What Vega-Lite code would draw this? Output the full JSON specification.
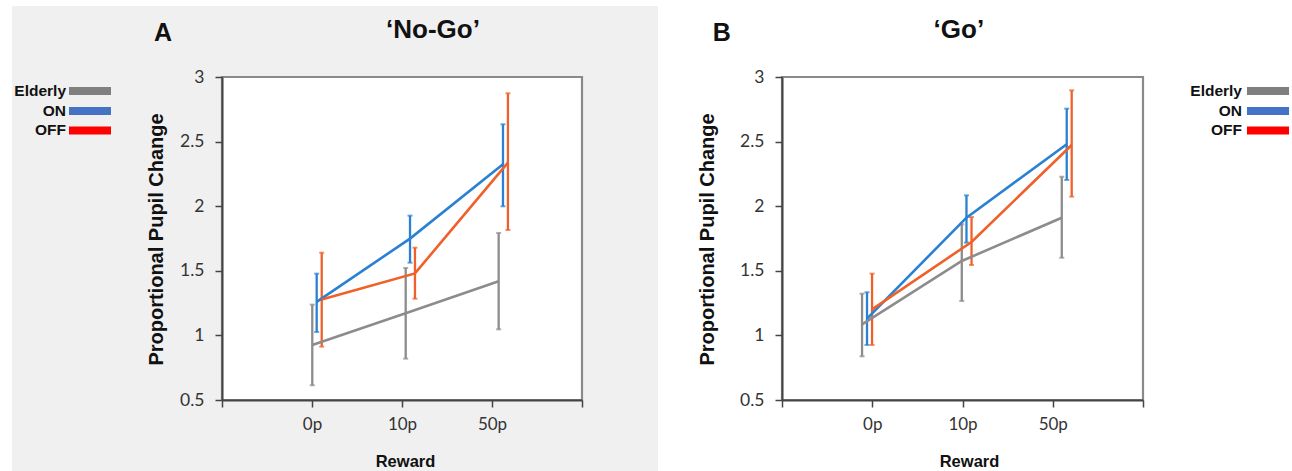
{
  "$schema": "https://vega.github.io/schema/vega-lite/v6.json",
  "padding": {"left": 12, "top": 5, "right": 0, "bottom": 0},
  "autosize": {"type": "pad"},
  "background": "white",
  "bounds": "flush",
  "spacing": 200,
  "config": {
    "view": {"stroke": null},
    "font": "Liberation Sans",
    "axis": {"grid": false}
  },
  "datasets": {
    "pupil": [
      {"panel": "No-Go", "group": "Elderly", "x": 1.003, "mean": 0.926, "lo": 0.614, "hi": 1.238},
      {"panel": "No-Go", "group": "Elderly", "x": 2.041, "mean": 1.171, "lo": 0.82, "hi": 1.522},
      {"panel": "No-Go", "group": "Elderly", "x": 3.074, "mean": 1.419, "lo": 1.047, "hi": 1.793},
      {"panel": "No-Go", "group": "ON", "x": 1.052, "mean": 1.26, "lo": 1.026, "hi": 1.478},
      {"panel": "No-Go", "group": "ON", "x": 2.089, "mean": 1.749, "lo": 1.563, "hi": 1.927},
      {"panel": "No-Go", "group": "ON", "x": 3.122, "mean": 2.324, "lo": 1.999, "hi": 2.634},
      {"panel": "No-Go", "group": "OFF", "x": 1.108, "mean": 1.277, "lo": 0.913, "hi": 1.64},
      {"panel": "No-Go", "group": "OFF", "x": 2.144, "mean": 1.48, "lo": 1.284, "hi": 1.679},
      {"panel": "No-Go", "group": "OFF", "x": 3.177, "mean": 2.337, "lo": 1.816, "hi": 2.874},
      {"panel": "Go", "group": "Elderly", "x": 0.887, "mean": 1.086, "lo": 0.838, "hi": 1.323},
      {"panel": "Go", "group": "Elderly", "x": 1.992, "mean": 1.576, "lo": 1.266, "hi": 1.86},
      {"panel": "Go", "group": "Elderly", "x": 3.1, "mean": 1.911, "lo": 1.601, "hi": 2.228},
      {"panel": "Go", "group": "ON", "x": 0.942, "mean": 1.13, "lo": 0.926, "hi": 1.334},
      {"panel": "Go", "group": "ON", "x": 2.044, "mean": 1.911, "lo": 1.718, "hi": 2.084},
      {"panel": "Go", "group": "ON", "x": 3.155, "mean": 2.479, "lo": 2.203, "hi": 2.755},
      {"panel": "Go", "group": "OFF", "x": 0.998, "mean": 1.202, "lo": 0.926, "hi": 1.478},
      {"panel": "Go", "group": "OFF", "x": 2.1, "mean": 1.723, "lo": 1.545, "hi": 1.916},
      {"panel": "Go", "group": "OFF", "x": 3.21, "mean": 2.474, "lo": 2.074, "hi": 2.897}
    ]
  },
  "resolve": {"scale": {"color": "independent"}},
  "hconcat": [
    {
      "width": 360,
      "height": 323,
      "layer": [
        {
          "data": {"values": [{}]},
          "mark": {"type": "rect", "fill": "#f0f0f0", "clip": false},
          "encoding": {
            "x": {"datum": -2.333, "type": "quantitative", "scale": {"domain": [0, 4], "nice": false, "zero": false}, "title": "Reward"},
            "x2": {"datum": 4.844},
            "y": {"datum": 3.55, "type": "quantitative", "scale": {"domain": [0.5, 3], "nice": false, "zero": false}, "title": "Proportional  Pupil Change"},
            "y2": {"datum": -0.057}
          }
        },
        {
          "data": {"values": [{}]},
          "mark": {"type": "rect", "fill": "white", "stroke": "#8a8a8a", "strokeWidth": 2.2},
          "encoding": {
            "x": {"datum": 0, "type": "quantitative", "title": "Reward",
              "axis": {"values": [0, 1, 2, 3, 4], "labelExpr": "datum.value == 1 ? '0p' : datum.value == 2 ? '10p' : datum.value == 3 ? '50p' : ''", "domainColor": "#444", "domainWidth": 2, "tickColor": "#444", "tickWidth": 1.5, "tickSize": 7, "labelPadding": 9, "labelFont": "Lato", "labelFontSize": 17, "labelColor": "#333", "titleFont": "Liberation Sans", "titleFontWeight": "bold", "titleFontSize": 16.5, "titleColor": "#111", "titleX": 183, "titleY": 61, "titleBaseline": "middle", "zindex": 1,
                "encode": {"labels": {"update": {"dx": {"signal": "datum.value == 1 ? -7 : datum.value == 3 ? 4 : 0"}}}}}},
            "x2": {"datum": 4},
            "y": {"datum": 0.5, "type": "quantitative", "title": "Proportional  Pupil Change",
              "axis": {"values": [0.5, 1, 1.5, 2, 2.5, 3], "format": "~g", "domainColor": "#444", "domainWidth": 2, "tickColor": "#444", "tickWidth": 1.5, "tickSize": 7, "labelPadding": 11, "labelFont": "Lato", "labelFontSize": 17.5, "labelColor": "#333", "titleFont": "Liberation Sans", "titleFontWeight": "bold", "titleFontSize": 20, "titleColor": "#111", "titleX": -66, "titleY": 162, "titleBaseline": "middle", "zindex": 1}},
            "y2": {"datum": 3}
          }
        },
        {
          "data": {"values": [{}]},
          "mark": {"type": "text", "text": "A", "font": "Liberation Sans", "fontSize": 25, "fontWeight": "bold", "color": "#111", "baseline": "middle", "align": "center"},
          "encoding": {
            "x": {"datum": -0.656, "type": "quantitative"},
            "y": {"datum": 3.341, "type": "quantitative"}
          }
        },
        {
          "data": {"values": [{}]},
          "mark": {"type": "text", "text": "‘No-Go’", "font": "Liberation Sans", "fontSize": 26, "fontWeight": "bold", "color": "#111", "baseline": "middle", "align": "center"},
          "encoding": {
            "x": {"datum": 2.344, "type": "quantitative"},
            "y": {"datum": 3.366, "type": "quantitative"}
          }
        },
        {
          "data": {"values": [{}]},
          "mark": {"type": "text", "text": ["Elderly", "ON", "OFF"], "lineHeight": 19.7, "font": "Liberation Sans", "fontSize": 15.5, "fontWeight": "bold", "color": "#111", "baseline": "middle", "align": "right"},
          "encoding": {
            "x": {"datum": -1.733, "type": "quantitative"},
            "y": {"datum": 2.8916, "type": "quantitative"}
          }
        },
        {
          "data": {"values": [{}]},
          "mark": {"type": "rule", "color": "#7f7f7f", "strokeWidth": 8, "strokeCap": "butt"},
          "encoding": {"x": {"datum": -1.7, "type": "quantitative"}, "x2": {"datum": -1.2333}, "y": {"datum": 2.8916, "type": "quantitative"}}
        },
        {
          "data": {"values": [{}]},
          "mark": {"type": "rule", "color": "#4472c4", "strokeWidth": 8, "strokeCap": "butt"},
          "encoding": {"x": {"datum": -1.7, "type": "quantitative"}, "x2": {"datum": -1.2333}, "y": {"datum": 2.7368, "type": "quantitative"}}
        },
        {
          "data": {"values": [{}]},
          "mark": {"type": "rule", "color": "#ff0000", "strokeWidth": 8, "strokeCap": "butt"},
          "encoding": {"x": {"datum": -1.7, "type": "quantitative"}, "x2": {"datum": -1.2333}, "y": {"datum": 2.5859, "type": "quantitative"}}
        },
        {
          "data": {"name": "pupil"},
          "transform": [{"filter": "datum.panel === 'No-Go'"}],
          "mark": {"type": "rule", "strokeWidth": 2.3},
          "encoding": {
            "x": {"field": "x", "type": "quantitative", "title": "Reward"},
            "y": {"field": "lo", "type": "quantitative", "title": "Proportional  Pupil Change"},
            "y2": {"field": "hi"},
            "color": {"field": "group", "type": "nominal", "legend": null, "scale": {"domain": ["Elderly", "ON", "OFF"], "range": ["#8c8c8c", "#2a80d2", "#f0602a"]}}
          }
        },
        {
          "data": {"name": "pupil"},
          "transform": [{"filter": "datum.panel === 'No-Go'"}],
          "mark": {"type": "tick", "orient": "horizontal", "size": 5, "thickness": 2},
          "encoding": {
            "x": {"field": "x", "type": "quantitative", "title": "Reward"},
            "y": {"field": "lo", "type": "quantitative", "title": "Proportional  Pupil Change"},
            "color": {"field": "group", "type": "nominal", "legend": null, "scale": {"domain": ["Elderly", "ON", "OFF"], "range": ["#8c8c8c", "#2a80d2", "#f0602a"]}}
          }
        },
        {
          "data": {"name": "pupil"},
          "transform": [{"filter": "datum.panel === 'No-Go'"}],
          "mark": {"type": "tick", "orient": "horizontal", "size": 5, "thickness": 2},
          "encoding": {
            "x": {"field": "x", "type": "quantitative", "title": "Reward"},
            "y": {"field": "hi", "type": "quantitative", "title": "Proportional  Pupil Change"},
            "color": {"field": "group", "type": "nominal", "legend": null, "scale": {"domain": ["Elderly", "ON", "OFF"], "range": ["#8c8c8c", "#2a80d2", "#f0602a"]}}
          }
        },
        {
          "data": {"name": "pupil"},
          "transform": [{"filter": "datum.panel === 'No-Go'"}],
          "mark": {"type": "line", "strokeWidth": 2.6},
          "encoding": {
            "x": {"field": "x", "type": "quantitative", "title": "Reward"},
            "y": {"field": "mean", "type": "quantitative", "title": "Proportional  Pupil Change"},
            "color": {"field": "group", "type": "nominal", "legend": null, "scale": {"domain": ["Elderly", "ON", "OFF"], "range": ["#8c8c8c", "#2a80d2", "#f0602a"]}}
          }
        }
      ]
    },
    {
      "width": 361,
      "height": 323,
      "layer": [
        {
          "data": {"values": [{}]},
          "mark": {"type": "rect", "fill": "white", "stroke": "#8a8a8a", "strokeWidth": 2.2},
          "encoding": {
            "x": {"datum": 0, "type": "quantitative", "title": "Reward", "scale": {"domain": [0, 4], "nice": false, "zero": false},
              "axis": {"values": [0, 1, 2, 3, 4], "labelExpr": "datum.value == 1 ? '0p' : datum.value == 2 ? '10p' : datum.value == 3 ? '50p' : ''", "domainColor": "#444", "domainWidth": 2, "tickColor": "#444", "tickWidth": 1.5, "tickSize": 7, "labelPadding": 9, "labelFont": "Lato", "labelFontSize": 17, "labelColor": "#333", "titleFont": "Liberation Sans", "titleFontWeight": "bold", "titleFontSize": 16.5, "titleColor": "#111", "titleX": 187, "titleY": 61, "titleBaseline": "middle", "zindex": 1,
                "encode": {"labels": {"update": {"dx": {"signal": "datum.value == 1 ? -9 : datum.value == 2 ? 2 : datum.value == 3 ? 3 : 0"}}}}}},
            "x2": {"datum": 4},
            "y": {"datum": 0.5, "type": "quantitative", "title": "Proportional  Pupil Change", "scale": {"domain": [0.5, 3], "nice": false, "zero": false},
              "axis": {"values": [0.5, 1, 1.5, 2, 2.5, 3], "format": "~g", "domainColor": "#444", "domainWidth": 2, "tickColor": "#444", "tickWidth": 1.5, "tickSize": 7, "labelPadding": 11, "labelFont": "Lato", "labelFontSize": 17.5, "labelColor": "#333", "titleFont": "Liberation Sans", "titleFontWeight": "bold", "titleFontSize": 20, "titleColor": "#111", "titleX": -75, "titleY": 162, "titleBaseline": "middle", "zindex": 1}},
            "y2": {"datum": 3}
          }
        },
        {
          "data": {"values": [{}]},
          "mark": {"type": "text", "text": "B", "font": "Liberation Sans", "fontSize": 25, "fontWeight": "bold", "color": "#111", "baseline": "middle", "align": "center"},
          "encoding": {
            "x": {"datum": -0.667, "type": "quantitative"},
            "y": {"datum": 3.341, "type": "quantitative"}
          }
        },
        {
          "data": {"values": [{}]},
          "mark": {"type": "text", "text": "‘Go’", "font": "Liberation Sans", "fontSize": 26, "fontWeight": "bold", "color": "#111", "baseline": "middle", "align": "center"},
          "encoding": {
            "x": {"datum": 1.96, "type": "quantitative"},
            "y": {"datum": 3.366, "type": "quantitative"}
          }
        },
        {
          "data": {"values": [{}]},
          "mark": {"type": "text", "text": ["Elderly", "ON", "OFF"], "lineHeight": 19.7, "font": "Liberation Sans", "fontSize": 15.5, "fontWeight": "bold", "color": "#111", "baseline": "middle", "align": "right"},
          "encoding": {
            "x": {"datum": 5.097, "type": "quantitative"},
            "y": {"datum": 2.8916, "type": "quantitative"}
          }
        },
        {
          "data": {"values": [{}]},
          "mark": {"type": "rule", "color": "#7f7f7f", "strokeWidth": 8, "strokeCap": "butt"},
          "encoding": {"x": {"datum": 5.152, "type": "quantitative"}, "x2": {"datum": 5.618}, "y": {"datum": 2.8916, "type": "quantitative"}}
        },
        {
          "data": {"values": [{}]},
          "mark": {"type": "rule", "color": "#4472c4", "strokeWidth": 8, "strokeCap": "butt"},
          "encoding": {"x": {"datum": 5.152, "type": "quantitative"}, "x2": {"datum": 5.618}, "y": {"datum": 2.7368, "type": "quantitative"}}
        },
        {
          "data": {"values": [{}]},
          "mark": {"type": "rule", "color": "#ff0000", "strokeWidth": 8, "strokeCap": "butt"},
          "encoding": {"x": {"datum": 5.152, "type": "quantitative"}, "x2": {"datum": 5.618}, "y": {"datum": 2.5859, "type": "quantitative"}}
        },
        {
          "data": {"name": "pupil"},
          "transform": [{"filter": "datum.panel === 'Go'"}],
          "mark": {"type": "rule", "strokeWidth": 2.3},
          "encoding": {
            "x": {"field": "x", "type": "quantitative", "title": "Reward"},
            "y": {"field": "lo", "type": "quantitative", "title": "Proportional  Pupil Change"},
            "y2": {"field": "hi"},
            "color": {"field": "group", "type": "nominal", "legend": null, "scale": {"domain": ["Elderly", "ON", "OFF"], "range": ["#8c8c8c", "#2a80d2", "#f0602a"]}}
          }
        },
        {
          "data": {"name": "pupil"},
          "transform": [{"filter": "datum.panel === 'Go'"}],
          "mark": {"type": "tick", "orient": "horizontal", "size": 5, "thickness": 2},
          "encoding": {
            "x": {"field": "x", "type": "quantitative", "title": "Reward"},
            "y": {"field": "lo", "type": "quantitative", "title": "Proportional  Pupil Change"},
            "color": {"field": "group", "type": "nominal", "legend": null, "scale": {"domain": ["Elderly", "ON", "OFF"], "range": ["#8c8c8c", "#2a80d2", "#f0602a"]}}
          }
        },
        {
          "data": {"name": "pupil"},
          "transform": [{"filter": "datum.panel === 'Go'"}],
          "mark": {"type": "tick", "orient": "horizontal", "size": 5, "thickness": 2},
          "encoding": {
            "x": {"field": "x", "type": "quantitative", "title": "Reward"},
            "y": {"field": "hi", "type": "quantitative", "title": "Proportional  Pupil Change"},
            "color": {"field": "group", "type": "nominal", "legend": null, "scale": {"domain": ["Elderly", "ON", "OFF"], "range": ["#8c8c8c", "#2a80d2", "#f0602a"]}}
          }
        },
        {
          "data": {"name": "pupil"},
          "transform": [{"filter": "datum.panel === 'Go'"}],
          "mark": {"type": "line", "strokeWidth": 2.6},
          "encoding": {
            "x": {"field": "x", "type": "quantitative", "title": "Reward"},
            "y": {"field": "mean", "type": "quantitative", "title": "Proportional  Pupil Change"},
            "color": {"field": "group", "type": "nominal", "legend": null, "scale": {"domain": ["Elderly", "ON", "OFF"], "range": ["#8c8c8c", "#2a80d2", "#f0602a"]}}
          }
        }
      ]
    }
  ]
}
